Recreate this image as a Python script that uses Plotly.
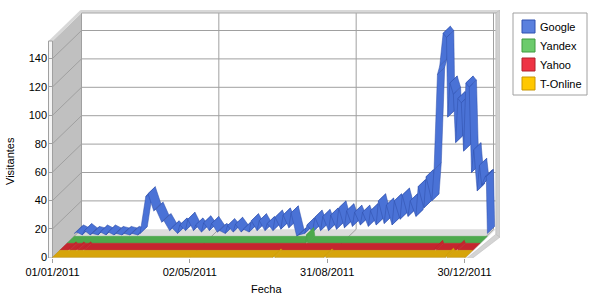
import plotly.graph_objects as go

# ---------------- data ----------------
series_names = ["Google", "Yandex", "Yahoo", "T-Online"]
tick_days = [0, 121, 242, 363]
tick_labels = ["01/01/2011", "02/05/2011", "31/08/2011", "30/12/2011"]
y_ticks = [0, 20, 40, 60, 80, 100, 120, 140]

# day of 2011 (0 = 01/01/2011) and visitors
google_day = [0, 2, 7, 9, 14, 16, 21, 23, 28, 30, 35, 37, 42, 44, 49, 51, 56, 58, 63,
              65, 70, 72, 77, 79, 84, 86, 91, 93, 98, 100, 105, 107, 112, 114, 119,
              121, 126, 128, 133, 135, 140, 142, 147, 149, 154, 156, 161, 163, 168,
              170, 175, 177, 182, 184, 189, 191, 196, 198, 203, 205, 210, 212, 217,
              219, 224, 226, 231, 233, 238, 240, 245, 247, 252, 254, 259, 261, 266,
              268, 273, 275, 280, 282, 287, 289, 294, 296, 301, 303, 308, 310, 315,
              317, 320, 322, 325, 328, 329, 331, 334, 336, 338, 341, 343, 345, 348,
              350, 352, 355, 357, 359, 362, 363, 364]
google_val = [2, 3, 1, 4, 1, 2, 1, 3, 1, 3, 1, 2, 1, 2, 1, 2, 1, 2, 28,
              30, 18, 19, 10, 11, 4, 6, 2, 8, 4, 12, 4, 8, 3, 9.5, 4,
              9, 3, 4, 2, 7.5, 3, 8.5, 3, 5, 3, 11, 4, 11, 4,
              9, 4, 13.5, 5, 15, 6, 16.5, 0, 1, 2, 8, 3, 13.5, 4,
              14, 4, 15, 5, 20, 6, 18, 7, 17, 8, 17, 7, 18, 8,
              25, 9, 22, 8, 25, 12, 29, 14, 25, 14, 35, 20, 42, 25,
              47, 114, 120, 143, 140, 84, 108, 100, 66, 97, 94, 60, 108, 105,
              45, 61, 32, 50, 36, 42, 42, 2]
yandex_day = [0, 210, 211, 212, 364]
yandex_val = [0, 0, 6, 0, 0]
yahoo_day = [0, 7, 8, 9, 14, 15, 16, 20, 21, 22, 330, 331, 332, 349, 350, 351, 364]
yahoo_val = [0, 0, 1, 0, 0, 1, 0, 0, 1, 0, 0, 2, 0, 0, 2, 0, 0]
tonline_day = [0, 194, 195, 196, 239, 240, 241, 346, 347, 348, 364]
tonline_val = [0, 0, 1, 0, 0, 1, 0, 0, 1.5, 0, 0]

# ---------------- geometry of the pseudo-3D box ----------------
PXD = 1.135           # pixels per day
PXV = 1.42            # pixels per visitor unit
DX = 29 / PXD         # depth offset along x (days)
DY = 28 / PXV         # depth offset along y (units)
DEND = 365            # floor right end (days)
TOP = 152.3           # front top of the walls (units)
L, R, T, B = 48, 100, 10, 42
W, H = 600 - L - R, 300 - T - B
x_min = -4.5 / PXD
x_rng = [x_min, x_min + W / PXD]
y_min = -0.7 / PXV
y_rng = [y_min, y_min + H / PXV]


def px(n):
    return n / PXD


def pv(n):
    return n / PXV


def path(pts):
    return "M " + " L ".join(f"{x:.4f},{y:.4f}" for x, y in pts) + " Z"


shapes = []


def poly(pts, fill, line="rgba(0,0,0,0)", lw=0):
    shapes.append(dict(type="path", xref="x", yref="y", path=path(pts), fillcolor=fill,
                       line=dict(color=line, width=lw), layer="below"))


def seg(x0, y0, x1, y1, color, w=1):
    shapes.append(dict(type="line", xref="x", yref="y", x0=x0, y0=y0, x1=x1, y1=y1,
                       line=dict(color=color, width=w), layer="below"))


GRID = "#A0A0A0"
# floor
poly([(0, 0), (DEND, 0), (DEND + DX, DY), (DX, DY)], "#DCDCDC")
# side wall
poly([(0, 0), (0, TOP), (DX, TOP + DY), (DX, DY)], "#C0C0C0")
# back wall grid
for v in y_ticks[1:]:
    seg(DX, v + DY, DEND + DX, v + DY, GRID)
    seg(0, v, DX, v + DY, GRID)
for d in tick_days:
    seg(d + DX, DY, d + DX, TOP + DY, GRID)
    seg(d, 0, d + DX, DY, GRID)
# top edge of back wall
poly([(DX - px(1), TOP + DY), (DEND + DX + px(4), TOP + DY),
      (DEND + DX + px(4), TOP + DY + pv(3)), (DX - px(1), TOP + DY + pv(3))], "#D8D8D8")
seg(DX, TOP + DY, DEND + DX + px(1), TOP + DY, "#A8A8A8")
# top edge of side wall
poly([(-px(4), TOP), (0, TOP), (DX, TOP + DY), (DX - px(1), TOP + DY + pv(3))], "#D8D8D8")
# front strip of side wall
poly([(-px(4), -pv(1)), (0, -pv(1)), (0, TOP), (-px(4), TOP)], "#F4F4F4", GRID, 1)
# right edge of back wall and floor
poly([(DEND + DX, DY - pv(5)), (DEND + DX + px(4), DY - pv(8)),
      (DEND + DX + px(4), TOP + DY + pv(3)), (DEND + DX, TOP + DY)], "#D0D0D0", "#B0B0B0", 0.5)
poly([(DEND, -pv(1)), (DEND + DX, DY - pv(5)), (DEND + DX + px(4), DY - pv(8)),
      (DEND + px(1), -pv(4.5)), (DEND - px(4), -pv(4.5))], "#D4D4D4", "#B8B8B8", 0.5)
seg(-px(4), -pv(0.9), DEND, -pv(0.9), GRID)

fig = go.Figure()

ribbons = [
    (google_day, google_val, 0.75, 1.0, "#4A72D6", "#2F4FA8"),
    (yandex_day, yandex_val, 0.5, 0.75, "#4DA94D", "#46A046"),
    (yahoo_day, yahoo_val, 0.25, 0.5, "#C4262E", "#BC222A"),
    (tonline_day, tonline_val, 0.0, 0.25, "#D6A40A", "#CC9C08"),
]
for days, vals, f0, f1, fc, lc in ribbons:
    for i in range(len(days) - 1):
        d0, d1, v0, v1 = days[i], days[i + 1], vals[i], vals[i + 1]
        xs = [d0 + f0 * DX, d1 + f0 * DX, d1 + f1 * DX, d0 + f1 * DX, d0 + f0 * DX]
        ys = [v0 + f0 * DY, v1 + f0 * DY, v1 + f1 * DY, v0 + f1 * DY, v0 + f0 * DY]
        fig.add_trace(go.Scatter(x=xs, y=ys, mode="lines", fill="toself", fillcolor=fc,
                                 line=dict(color=lc, width=0.5), hoverinfo="skip",
                                 showlegend=False))

# ---------------- legend box (drawn in pixel-based paper coords) ----------------
FONT = dict(family="Liberation Sans", size=11, color="black")


def xp(p):
    return (p - L) / W


def yp(p):
    return (T + H - p) / H


legend_fill = ["#5A80DE", "#6CCB6C", "#EE3344", "#FFC800"]
legend_line = ["#2F50B0", "#3E9A3E", "#B0202A", "#C89600"]
annotations = []
shapes.append(dict(type="rect", xref="paper", yref="paper", x0=xp(513), x1=xp(587),
                   y0=yp(95), y1=yp(13), fillcolor="white",
                   line=dict(color="#A0A0A0", width=1), layer="above"))
for i, (name, fc, lc) in enumerate(zip(series_names, legend_fill, legend_line)):
    cy = 26.5 + i * 19
    shapes.append(dict(type="rect", xref="paper", yref="paper", x0=xp(522), x1=xp(535),
                       y0=yp(cy + 6.5), y1=yp(cy - 6.5), fillcolor=fc,
                       line=dict(color=lc, width=1), layer="above"))
    annotations.append(dict(text=name, xref="paper", yref="paper", x=xp(538), y=yp(cy),
                            xanchor="left", yanchor="middle", showarrow=False, font=FONT))

annotations += [
    dict(text="Visitantes", xref="paper", yref="paper", x=xp(10), y=yp(161),
         textangle=-90, showarrow=False, font=FONT, xanchor="center", yanchor="middle"),
    dict(text="Fecha", xref="paper", yref="paper", x=xp(266), y=yp(289),
         showarrow=False, font=FONT, xanchor="center", yanchor="middle"),
]

fig.update_layout(
    width=600, height=300,
    margin=dict(l=L, r=R, t=T, b=B, autoexpand=False),
    paper_bgcolor="white", plot_bgcolor="white",
    font=FONT,
    shapes=shapes,
    showlegend=False,
    xaxis=dict(range=x_rng, tickvals=tick_days, ticktext=tick_labels, showgrid=False,
               zeroline=False, showline=False, ticks="outside", ticklen=4,
               tickcolor=GRID, tickfont=FONT, fixedrange=True),
    yaxis=dict(range=y_rng, tickvals=y_ticks, showgrid=False, zeroline=False,
               showline=False, ticks="inside", ticklen=4, tickcolor=GRID,
               tickfont=FONT, fixedrange=True),
    annotations=annotations,
)

fig.write_html("out.html")
